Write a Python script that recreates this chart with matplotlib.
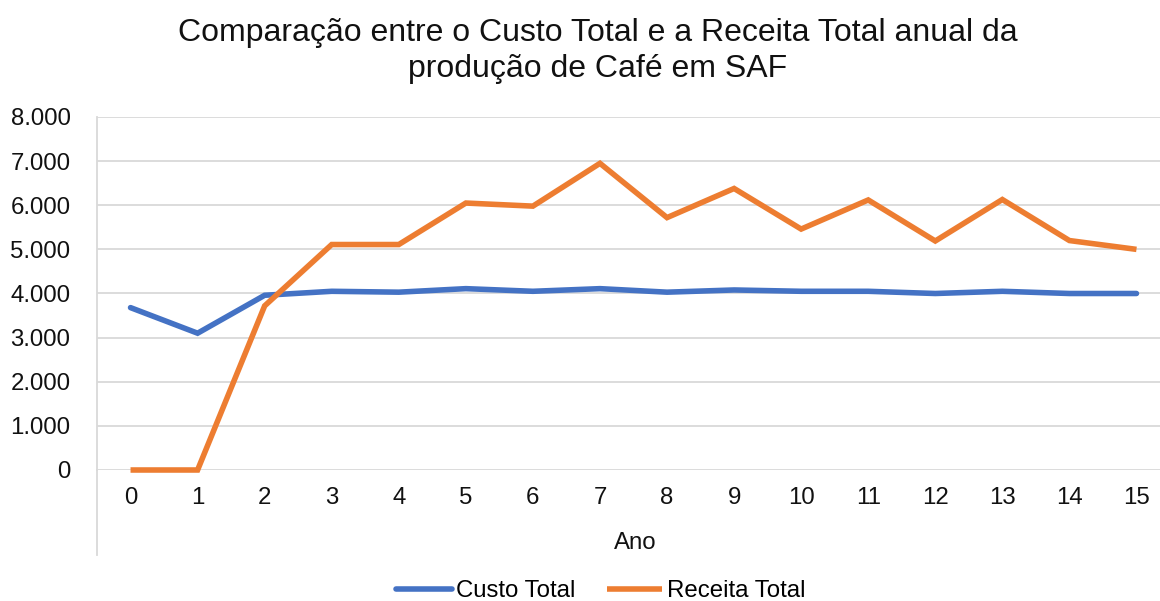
import matplotlib.pyplot as plt
from matplotlib.ticker import FuncFormatter
from matplotlib.lines import Line2D

plt.rcParams['font.family'] = ['Liberation Sans', 'DejaVu Sans']

# dados
anos = list(range(16))
custo_total = [3680, 3100, 3960, 4050, 4030, 4110, 4050, 4110, 4030, 4080,
               4050, 4050, 4000, 4050, 4000, 4000]
receita_total = [0, 0, 3720, 5110, 5110, 6050, 5980, 6950, 5720, 6380,
                 5460, 6120, 5190, 6130, 5200, 5000]

cor_custo = '#4472C4'
cor_receita = '#ED7D31'
cor_grade = '#D9D9D9'

fig = plt.figure(figsize=(11.6, 6.01), dpi=100)
ax = fig.add_axes([97/1160, 131/601, (1170-97)/1160, (470-117)/601])

ax.plot(anos, custo_total, color=cor_custo, lw=4, label='Custo Total',
        solid_capstyle='round', solid_joinstyle='miter', clip_on=False)
ax.plot(anos, receita_total, color=cor_receita, lw=4, label='Receita Total',
        solid_capstyle='butt', solid_joinstyle='miter', clip_on=False)

ax.set_xlim(-0.5, 15.5)
ax.set_ylim(0, 8000)
ax.set_yticks(range(0, 8001, 1000))
ax.yaxis.set_major_formatter(FuncFormatter(lambda v, p: f'{int(v):,}'.replace(',', '.')))
ax.set_xticks(anos)
ax.set_xticklabels([str(a) for a in anos])

ax.grid(True, axis='y', color=cor_grade, lw=1.3)
ax.set_axisbelow(True)
for s in ['top', 'right', 'bottom']:
    ax.spines[s].set_visible(False)
ax.spines['left'].set_color(cor_grade)
ax.spines['left'].set_linewidth(1.3)
ax.tick_params(axis='both', length=0, labelsize=17.3, colors='#111111')
ax.tick_params(axis='y', pad=19)
ax.tick_params(axis='x', pad=12)

# linha do eixo de categorias que desce abaixo do grafico
ax.add_line(Line2D([-0.5, -0.5], [0, -1930], color=cor_grade, lw=1.3, clip_on=False))

fig.text(635/1160, 1 - 543/601, 'Ano', ha='center', va='center', fontsize=17.3, color='#111111')
fig.text(598/1160, 1 - 51/601,
         'Comparação entre o Custo Total e a Receita Total anual da\nprodução de Café em SAF',
         ha='center', va='center', fontsize=23, color='#111111', linespacing=1.3)

fig.legend(loc='center', bbox_to_anchor=(601/1160, 1 - 591/601), ncol=2, frameon=False,
           fontsize=17.3, handlelength=2.3, handletextpad=0.2, columnspacing=1.3)

fig.savefig('out.png', dpi=100)
